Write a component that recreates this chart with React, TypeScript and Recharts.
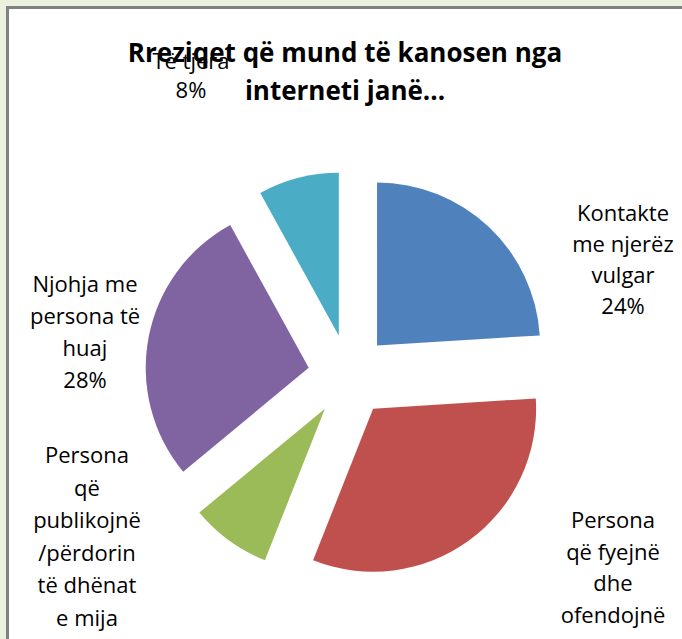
import React from "react";
import { PieChart, Pie, Cell } from "recharts";

const categories = [
  "Kontakte\nme njerëz\nvulgar",
  "Persona\nqë fyejnë\ndhe\nofendojnë",
  "Persona\nqë\npublikojnë\n/përdorin\ntë dhënat\ne mija",
  "Njohja me\npersona të\nhuaj",
  "Të tjera",
];
const values = [24, 32, 8, 28, 8];
const colors = ["#4f81bd", "#c0504d", "#9bbb59", "#8064a2", "#4bacc6"];
const titleLines = ["Rreziqet që mund të kanosen nga", "interneti janë..."];

const data = categories.map((name, i) => ({ name, value: values[i] }));
const total = values.reduce((a, b) => a + b, 0);

// layout
const W = 682;
const H = 639;
const CX = 349;
const CY = 375.5;
const R = 163;
const EXPLODE = 41;
const FONT = "'Open Sans', 'Noto Sans', sans-serif";
const labelLayout = [
  { x: 623, y: 221, lh: 31 },
  { x: 613, y: 528, lh: 31.7 },
  { x: 87, y: 463, lh: 32.6 },
  { x: 85, y: 292, lh: 32 },
  { x: 191, y: 69, lh: 29 },
];

function midAngleOf(i: number) {
  let before = 0;
  for (let k = 0; k < i; k++) before += values[k];
  const mid = before + values[i] / 2;
  // recharts degrees: start at 90, clockwise
  return 90 - (mid / total) * 360;
}

function makeLabel(idx: number) {
  return (props: any) => {
    if (props.index !== idx) return null;
    const lay = labelLayout[idx];
    const pct = Math.round((values[idx] / total) * 100) + "%";
    const lines = [...categories[idx].split("\n"), pct];
    return (
      <text
        key={"lbl" + idx}
        x={lay.x}
        y={lay.y}
        textAnchor="middle"
        fill="#000"
        fontFamily={FONT}
        fontSize={22}
      >
        {lines.map((ln, j) => (
          <tspan key={j} x={lay.x} y={lay.y + j * lay.lh}>
            {ln}
          </tspan>
        ))}
      </text>
    );
  };
}

export default function App() {
  return (
    <div
      style={{
        position: "absolute",
        left: 0,
        top: 0,
        width: W,
        height: H,
        background: "#ebf1de",
        overflow: "hidden",
      }}
    >
      <div
        style={{
          position: "absolute",
          left: 6,
          top: 6,
          width: 720,
          height: 720,
          border: "3px solid #808080",
          background: "#ffffff",
        }}
      />
      <div style={{ position: "absolute", left: 0, top: 0 }}>
        <PieChart width={W} height={H} margin={{ top: 0, right: 0, bottom: 0, left: 0 }}>
          {data.map((_, i) => {
            const m = (midAngleOf(i) * Math.PI) / 180;
            const cx = CX + EXPLODE * Math.cos(m);
            const cy = CY - EXPLODE * Math.sin(m);
            return (
              <Pie
                key={i}
                data={data}
                dataKey="value"
                nameKey="name"
                cx={cx}
                cy={cy}
                outerRadius={R}
                innerRadius={0}
                startAngle={90}
                endAngle={-270}
                stroke="none"
                labelLine={false}
                label={makeLabel(i)}
                isAnimationActive={false}
              >
                {data.map((__, j) => (
                  <Cell
                    key={j}
                    fill={j === i ? colors[j] : "transparent"}
                    stroke="none"
                  />
                ))}
              </Pie>
            );
          })}
        </PieChart>
      </div>
      <svg
        width={W}
        height={H}
        style={{ position: "absolute", left: 0, top: 0, pointerEvents: "none" }}
      >
        {titleLines.map((t, i) => (
          <text
            key={i}
            x={345}
            y={62 + i * 38}
            textAnchor="middle"
            fontFamily={FONT}
            fontWeight="bold"
            fontSize={26}
            fill="#000"
          >
            {t}
          </text>
        ))}
      </svg>
    </div>
  );
}
